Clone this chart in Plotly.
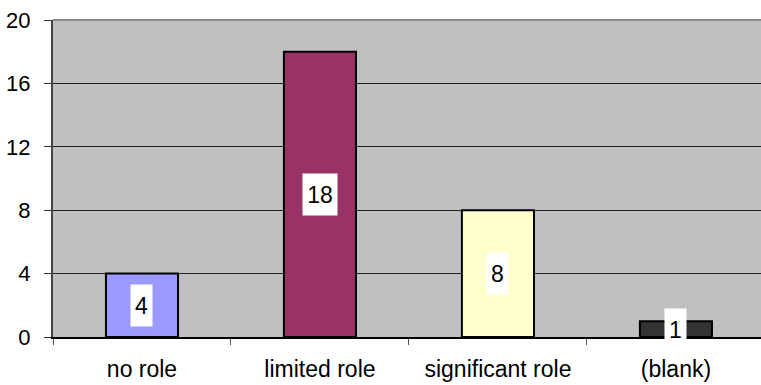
import plotly.graph_objects as go

categories = ["no role", "limited role", "significant role", "(blank)"]
values = [4, 18, 8, 1]
bar_colors = ["#9999FF", "#993366", "#FFFFCC", "#333333"]
y_ticks = [0, 4, 8, 12, 16, 20]

FONT = "Liberation Sans, Arial, sans-serif"

fig = go.Figure()
fig.add_trace(go.Bar(
    x=categories, y=values, width=0.405,
    marker=dict(color=bar_colors, line=dict(color="black", width=2)),
    hoverinfo="skip",
))

for c, v in zip(categories, values):
    t = str(v)
    fig.add_annotation(
        x=c, y=v / 2, text=t, showarrow=False,
        bgcolor="white", borderpad=0,
        width=8 + 13 * len(t), height=41,
        font=dict(family=FONT, size=23, color="black"),
    )

fig.add_shape(type="line", xref="paper", yref="paper", x0=0, x1=1, y0=1, y1=1,
              line=dict(color="#888888", width=2))

fig.update_layout(
    width=761, height=385,
    margin=dict(l=53, r=0, t=20, b=48),
    paper_bgcolor="white", plot_bgcolor="#C0C0C0",
    showlegend=False,
    font=dict(family=FONT, size=22, color="black"),
)
fig.update_xaxes(
    type="category", range=[-0.5, 3.478],
    tickson="boundaries", ticks="outside", ticklen=6, tickcolor="#555555",
    showline=True, linecolor="black", linewidth=1.5,
    showgrid=False, tickfont=dict(size=23),
    ticklabelstandoff=11,
)
fig.update_yaxes(
    range=[0, 20], tickvals=y_ticks,
    ticks="outside", ticklen=7, tickcolor="#333333",
    showline=True, linecolor="#444444", linewidth=2,
    showgrid=True, gridcolor="#222222", gridwidth=1,
    zeroline=False, tickfont=dict(size=22),
    ticklabelstandoff=9,
)

fig.write_html(
    "out.html",
    config={"displayModeBar": False},
    post_script="document.body.style.margin='0';document.body.style.overflow='hidden';",
)
